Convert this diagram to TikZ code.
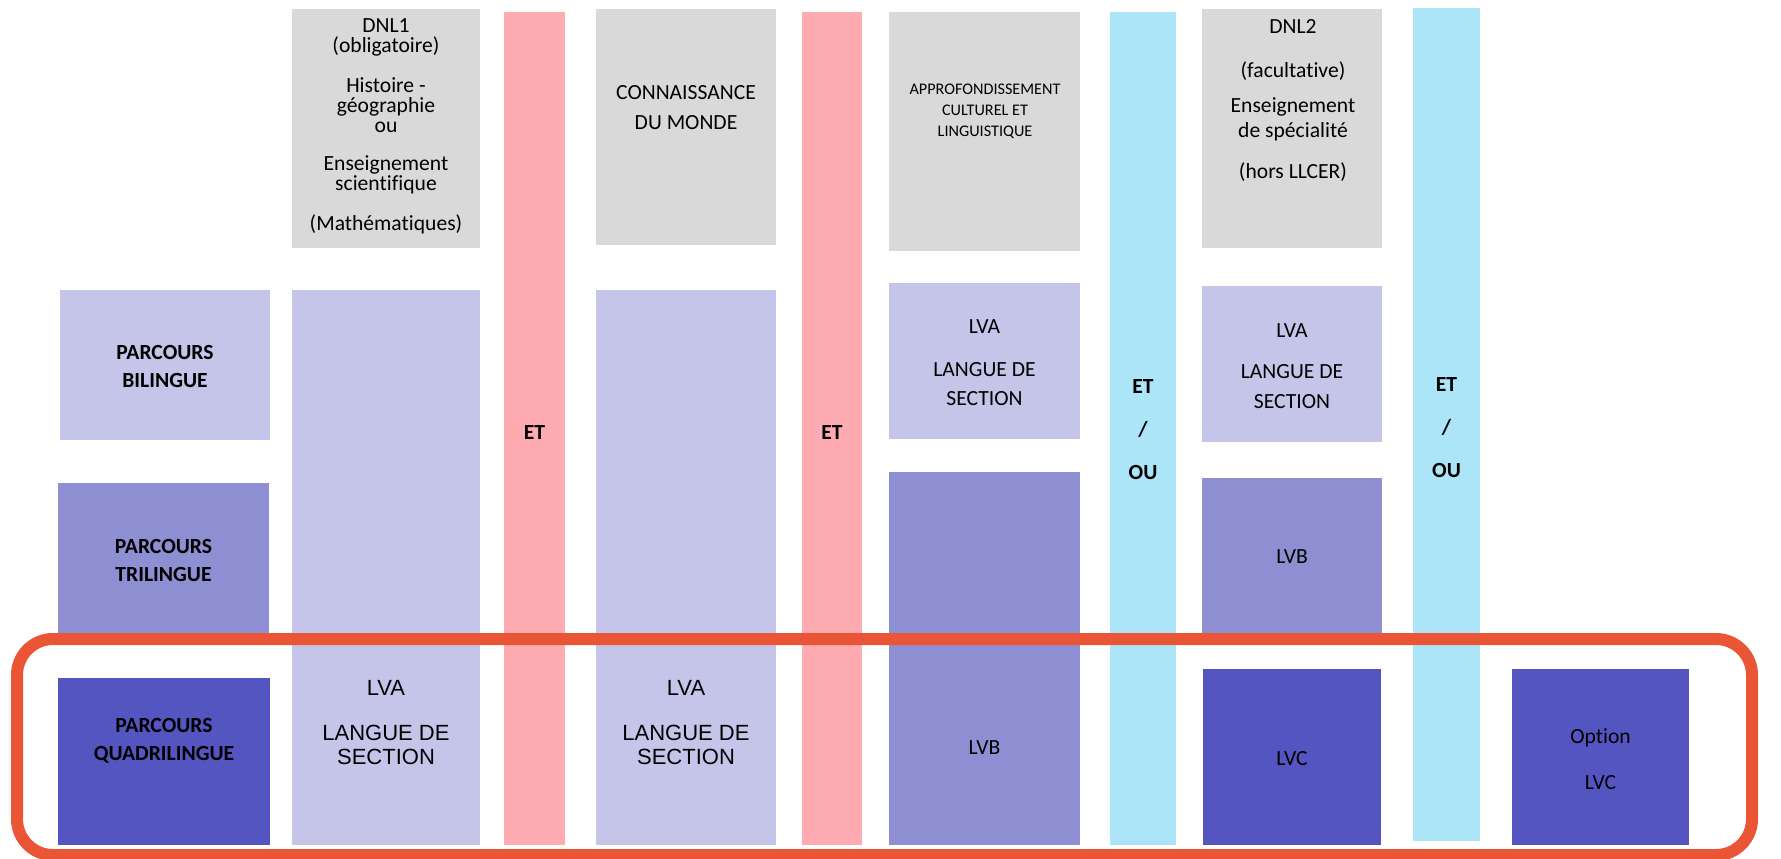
\documentclass[tikz,border=0pt]{standalone}
\usepackage{fontspec}
\setmainfont[Ligatures=NoCommon]{Carlito}
\newfontfamily\arialfont{Liberation Sans}
\definecolor{gris}{HTML}{D9D9D9}
\definecolor{lilas}{HTML}{C5C5E9}
\definecolor{mauve}{HTML}{8E8ED3}
\definecolor{violetfonce}{HTML}{5455C0}
\definecolor{rose}{HTML}{FFABB2}
\definecolor{ciel}{HTML}{ADE5F8}
\definecolor{cadre}{HTML}{E95535}
\begin{document}
\begin{tikzpicture}[x=0.5pt,y=-0.5pt,
txt/.style={align=center,inner sep=0pt,font=\fontsize{10.8}{10}\selectfont},
gras/.style={txt,font=\fontsize{10.8}{14}\selectfont\bfseries}]
\useasboundingbox(0,0)rectangle(1781,858);

\fill[lilas](60,290)rectangle(270,440);
\fill[mauve](58,483)rectangle(269,640);
\fill[violetfonce](58,678)rectangle(270,845);

\fill[gris](292,9)rectangle(480,248);
\fill[lilas](292,290)rectangle(480,845);
\fill[rose](504,12)rectangle(565,845);

\fill[gris](596,9)rectangle(776,245);
\fill[lilas](596,290)rectangle(776,845);
\fill[rose](802,12)rectangle(862,845);

\fill[gris](889,12)rectangle(1080,251);
\fill[lilas](889,283)rectangle(1080,439);
\fill[mauve](889,472)rectangle(1080,845);
\fill[ciel](1110,12)rectangle(1176,845);

\fill[gris](1202,9)rectangle(1382,248);
\fill[lilas](1202,286)rectangle(1382,442);
\fill[mauve](1202,478)rectangle(1382,640);
\fill[violetfonce](1203,669)rectangle(1381,845);
\fill[ciel](1413,8)rectangle(1480,841);
\fill[violetfonce](1512,669)rectangle(1689,845);

\draw[cadre,line width=6pt,rounded corners=18pt](17,639)rectangle(1752,855);

\node[txt](dnlun) at(386,126){DNL1\\(obligatoire)\\[10pt]Histoire -\\géographie\\ou\\[9pt]Enseignement\\scientifique\\[10pt](Mathématiques)};
\node[txt,font=\fontsize{10.8}{15}\selectfont](monde) at(686,108){CONNAISSANCE\\DU MONDE};
\node[txt,font=\fontsize{8.1}{10.5}\selectfont](appro) at(985,111){APPROFONDISSEMENT\\CULTUREL ET\\LINGUISTIQUE};
\node[txt,font=\fontsize{10.8}{12.5}\selectfont](dnldeux) at(1293,100.5){DNL2\\[9.5pt](facultative)\\[5pt]Enseignement\\de spécialité\\[8pt](hors LLCER)};

\node[gras](bi) at(165,366){PARCOURS\\BILINGUE};
\node[gras](tri) at(163.5,560){PARCOURS\\TRILINGUE};
\node[gras](quadri) at(164,741){PARCOURS\\QUADRILINGUE};

\node[gras](etun) at(534.5,432){ET};
\node[gras](etdeux) at(832,432){ET};
\node[gras,font=\fontsize{10.8}{21.5}\selectfont\bfseries](etouun) at(1143,430){ET\\/\\OU};
\node[gras,font=\fontsize{10.8}{21.5}\selectfont\bfseries](etoudeux) at(1446.5,428){ET\\/\\OU};

\node[txt,font=\arialfont\fontsize{11}{12}\selectfont](lvaun) at(386,722.5){LVA\\[10.5pt]LANGUE DE\\SECTION};
\node[txt,font=\arialfont\fontsize{11}{12}\selectfont](lvadeux) at(686,722.5){LVA\\[10.5pt]LANGUE DE\\SECTION};
\node[txt,font=\fontsize{10.8}{14.5}\selectfont](lvatrois) at(984.5,363){LVA\\[7pt]LANGUE DE\\SECTION};
\node[txt,font=\fontsize{10.8}{15}\selectfont](lvaquatre) at(1292,366.5){LVA\\[5.5pt]LANGUE DE\\SECTION};

\node[txt](lvbun) at(984.5,748){LVB};
\node[txt](lvbdeux) at(1292,557){LVB};
\node[txt](lvc) at(1292,759){LVC};
\node[txt,font=\fontsize{10.8}{23}\selectfont](option) at(1600.5,759){Option\\LVC};
\end{tikzpicture}
\end{document}
